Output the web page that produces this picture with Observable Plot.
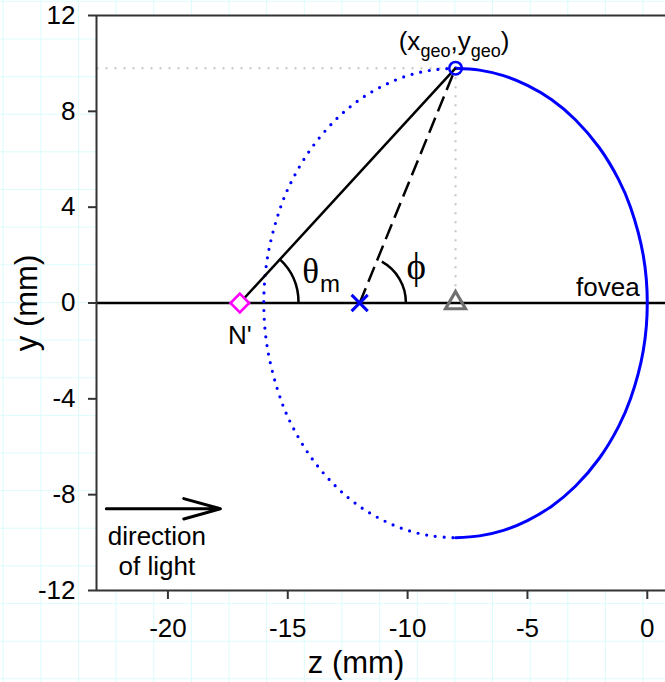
<!DOCTYPE html>
<html><head><meta charset="utf-8">
<script src="https://cdn.jsdelivr.net/npm/d3@7"></script>
<script src="https://cdn.jsdelivr.net/npm/@observablehq/plot@0.6"></script>
<style>
html,body{margin:0;padding:0;}
body{width:665px;height:682px;overflow:hidden;background-color:#fff;
background-image:linear-gradient(to right,#dcfbfb 1px,transparent 1px),linear-gradient(to bottom,#dcfbfb 1px,transparent 1px);
background-size:37.65px 37.65px;background-position:2.7px 0.8px;}
</style></head><body><div id="chart"></div>
<script>
// ---- axes ----
const xTicks = [-20, -15, -10, -5, 0];
const yTicks = [-12, -8, -4, 0, 4, 8, 12];
const xDomain = [-22.98, 0.76];
const yDomain = [-12, 12];
const xLabel = "z (mm)";
const yLabel = "y (mm)";

// ---- eye outline ----
const eyeSolidZ = [-8, -7, -6, -5, -4, -3, -2, -1.2, -0.7, -0.17, 0, -0.17, -0.7, -1.2, -2, -3, -4, -5, -6, -7, -8];
const eyeSolidY = [9.8, 9.72, 9.49, 9.08, 8.49, 7.65, 6.48, 5.16, 4, 2, 0, -2, -4, -5.16, -6.48, -7.65, -8.49, -9.08, -9.49, -9.72, -9.8];
const eyeDotZ = [-8, -9, -10, -11, -12, -13, -14, -14.8, -15.3, -15.83, -16, -15.83, -15.3, -14.8, -14, -13, -12, -11, -10, -9, -8];
const eyeDotY = [9.8, 9.72, 9.49, 9.08, 8.49, 7.65, 6.48, 5.16, 4, 2, 0, -2, -4, -5.16, -6.48, -7.65, -8.49, -9.08, -9.49, -9.72, -9.8];

// ---- key points ----
const nodalZ = -17, nodalY = 0;      // N'
const centerZ = -12, centerY = 0;    // blue x
const axisPtZ = -8, axisPtY = 0;     // grey triangle
const geoZ = -8, geoY = 9.8;         // (xgeo, ygeo)

// ---- angle arcs ----
const arcCenterZ = [-17, -12];
const arcRadius = [2.47, 1.95];
const arcEndDeg = [47.4, 61];

// ---- annotations ----
const nLabel = "N'";
const foveaLabel = "fovea";
const foveaZ = -0.32, foveaY = 0.31;
const lightLabel = "direction\nof light";
const lightZ = -20.46, lightY = -9.24;
const arrowZ = [-22.57, -17.81], arrowY = [-8.59, -8.59];
const geoParts = ["(x", "geo", ",y", "geo", ")"];
const thetaParts = ["\u03B8", "m"];
const phiText = "\u03D5";

const SANS = "'Liberation Sans', Arial, sans-serif";
const SERIF = "'Liberation Serif', 'DejaVu Serif', serif";

function arcsMark(index, scales) {
  const g = d3.create("svg:g").attr("fill", "none").attr("stroke", "black").attr("stroke-width", 2.5);
  for (let i = 0; i < arcCenterZ.length; i++) {
    const cx = scales.x(arcCenterZ[i]), cy = scales.y(0);
    const r = scales.x(arcCenterZ[i] + arcRadius[i]) - cx;
    const a = arcEndDeg[i] * Math.PI / 180;
    const x2 = cx + r * Math.cos(a), y2 = cy - r * Math.sin(a);
    g.append("path").attr("d", `M${cx + r},${cy}A${r},${r} 0 0 0 ${x2},${y2}`);
  }
  return g.node();
}

function richTextMark(index, scales) {
  const g = d3.create("svg:g").attr("fill", "black");
  // (x_geo, y_geo)
  const t = g.append("text").attr("font-family", SANS).attr("font-size", 26)
    .attr("text-anchor", "middle")
    .attr("x", scales.x(geoZ) - 1).attr("y", scales.y(geoY) - 17.7);
  geoParts.forEach((p, i) => {
    const sub = i % 2 === 1;
    const ts = t.append("tspan").text(p);
    if (sub) ts.attr("font-size", 18).attr("dy", 7);
    else if (i > 0) ts.attr("dy", -7);
  });
  // theta_m
  const th = g.append("text").attr("text-anchor", "start")
    .attr("x", scales.x(nodalZ) + 63).attr("y", scales.y(nodalY) - 19.5);
  th.append("tspan").attr("font-family", SERIF).attr("font-size", 35).text(thetaParts[0]);
  th.append("tspan").attr("font-family", SANS).attr("font-size", 24).attr("dy", 9).attr("dx", 1).text(thetaParts[1]);
  // phi
  g.append("text").attr("font-family", SERIF).attr("font-size", 37).attr("text-anchor", "middle")
    .attr("x", scales.x(centerZ) + 57).attr("y", scales.y(centerY) - 24).text(phiText);
  return g.node();
}

const chart = Plot.plot({
  width: 665, height: 682,
  marginLeft: 96, marginRight: 0, marginTop: 15, marginBottom: 92,
  x: {domain: xDomain},
  y: {domain: yDomain},
  style: {background: "transparent", fontFamily: SANS, fontSize: "26px", color: "black", overflow: "visible"},
  marks: [
    Plot.frame({fill: "white", stroke: "none"}),
    // grey guide lines
    Plot.link([0], {x1: xDomain[0], y1: geoY, x2: geoZ, y2: geoY, stroke: "#c4c4c4", strokeWidth: 2, strokeDasharray: "2 7"}),
    Plot.link([0], {x1: geoZ, y1: geoY, x2: axisPtZ, y2: axisPtY, stroke: "#c4c4c4", strokeWidth: 2, strokeDasharray: "2 7"}),
    // optical axis
    Plot.ruleY([0], {stroke: "black", strokeWidth: 2.5}),
    // eye outline
    Plot.line(eyeDotZ.map((z, i) => ({z, y: eyeDotY[i]})), {x: "z", y: "y", curve: "catmull-rom", stroke: "#0000ff", strokeWidth: 3.2, strokeDasharray: "0 8.8", strokeLinecap: "round"}),
    Plot.line(eyeSolidZ.map((z, i) => ({z, y: eyeSolidY[i]})), {x: "z", y: "y", curve: "catmull-rom", stroke: "#0000ff", strokeWidth: 3}),
    // rays
    Plot.link([0], {x1: nodalZ, y1: nodalY, x2: geoZ, y2: geoY, stroke: "black", strokeWidth: 2.5}),
    Plot.link([0], {x1: centerZ, y1: centerY, x2: geoZ, y2: geoY, stroke: "black", strokeWidth: 2.5, strokeDasharray: "16 7"}),
    arcsMark,
    // markers
    Plot.dot([0], {x: axisPtZ, y: axisPtY, symbol: "triangle", r: 7.4, stroke: "#707070", strokeWidth: 3.2, fill: "none"}),
    Plot.dot([0], {x: centerZ, y: centerY, symbol: "times", r: 7.4, stroke: "#0000ff", strokeWidth: 3}),
    Plot.dot([0], {x: nodalZ, y: nodalY, symbol: "diamond2", r: 8.4, stroke: "#ff00ff", strokeWidth: 2.6, fill: "white"}),
    Plot.dot([0], {x: geoZ, y: geoY, symbol: "circle", r: 6.3, stroke: "#0000ff", strokeWidth: 2.5, fill: "none"}),
    // arrow
    Plot.arrow([0], {x1: arrowZ[0], y1: arrowY[0], x2: arrowZ[1], y2: arrowY[1], stroke: "black", strokeWidth: 3, headLength: 20, headAngle: 31}),
    // text annotations
    Plot.text([nLabel], {x: nodalZ, y: nodalY, text: d => d, dy: 40.5, lineAnchor: "bottom", fontSize: 26}),
    Plot.text([foveaLabel], {x: foveaZ, y: foveaY, text: d => d, textAnchor: "end", lineAnchor: "bottom", fontSize: 26}),
    Plot.text([lightLabel], {x: lightZ, y: lightY, text: d => d, lineAnchor: "top", lineHeight: 1.13, fontSize: 26}),
    richTextMark,
    // frame lines
    Plot.ruleX([xDomain[0]], {stroke: "#333", strokeWidth: 2}),
    Plot.ruleY([yDomain[0], yDomain[1]], {stroke: "#333", strokeWidth: 2}),
    // axes
    Plot.axisX(xTicks, {tickSize: 9, tickPadding: 19, fontSize: 26, label: null, stroke: "#333", strokeWidth: 2, tickFormat: d => String(d), fill: "black"}),
    Plot.axisY(yTicks, {tickSize: 8, tickPadding: 13, fontSize: 26, label: null, stroke: "#333", strokeWidth: 2, tickFormat: d => String(d), fill: "black"}),
    Plot.text([xLabel], {frameAnchor: "bottom", text: d => d, textAnchor: "middle", dx: -25, dy: 82, lineAnchor: "bottom", fontSize: 31}),
    Plot.text([yLabel], {frameAnchor: "left", text: d => d, textAnchor: "middle", dx: -69, rotate: -90, fontSize: 31})
  ]
});
document.getElementById("chart").appendChild(chart);
</script>
</body></html>
